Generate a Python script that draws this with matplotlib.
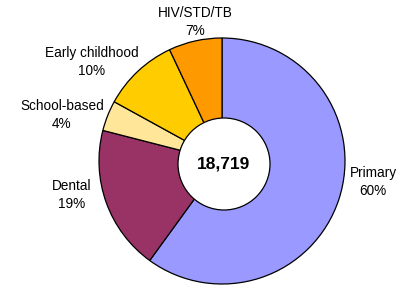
import matplotlib.pyplot as plt

# dados
categorias = ['Primary', 'Dental', 'School-based', 'Early childhood', 'HIV/STD/TB']
percentuais = [60, 19, 4, 10, 7]
cores = ['#9999FF', '#993366', '#FFE699', '#FFCC00', '#FF9900']
total = '18,719'

plt.rcParams['font.family'] = ['Liberation Sans', 'DejaVu Sans']

fig = plt.figure(figsize=(4.01, 2.90), dpi=100)
ax = fig.add_axes([0, 0, 1, 1])

ax.pie(percentuais, colors=cores, startangle=90, counterclock=False,
       center=(222, 129), radius=123, frame=True,
       wedgeprops=dict(edgecolor='black', linewidth=0.9))
ax.set_xlim(0, 401)
ax.set_ylim(0, 290)
ax.set_aspect('equal')
ax.axis('off')

# circulo central
circ = plt.Circle((224, 126), 46, facecolor='white', edgecolor='black', linewidth=0.9, zorder=5)
ax.add_patch(circ)
ax.text(224, 126, total, ha='center', va='center', fontsize=12.5, fontweight='bold', zorder=6)

# rotulos
pos = {
    'Primary': (373, 108),
    'Dental': (72, 95),
    'School-based': (62, 175),
    'Early childhood': (92, 228),
    'HIV/STD/TB': (195, 268),
}
for c, p in zip(categorias, percentuais):
    x, y = pos[c]
    ax.text(x, y, f'{c}\n{p}%', ha='center', va='center', fontsize=9.8, linespacing=1.45)

fig.savefig('out.png', dpi=100)
